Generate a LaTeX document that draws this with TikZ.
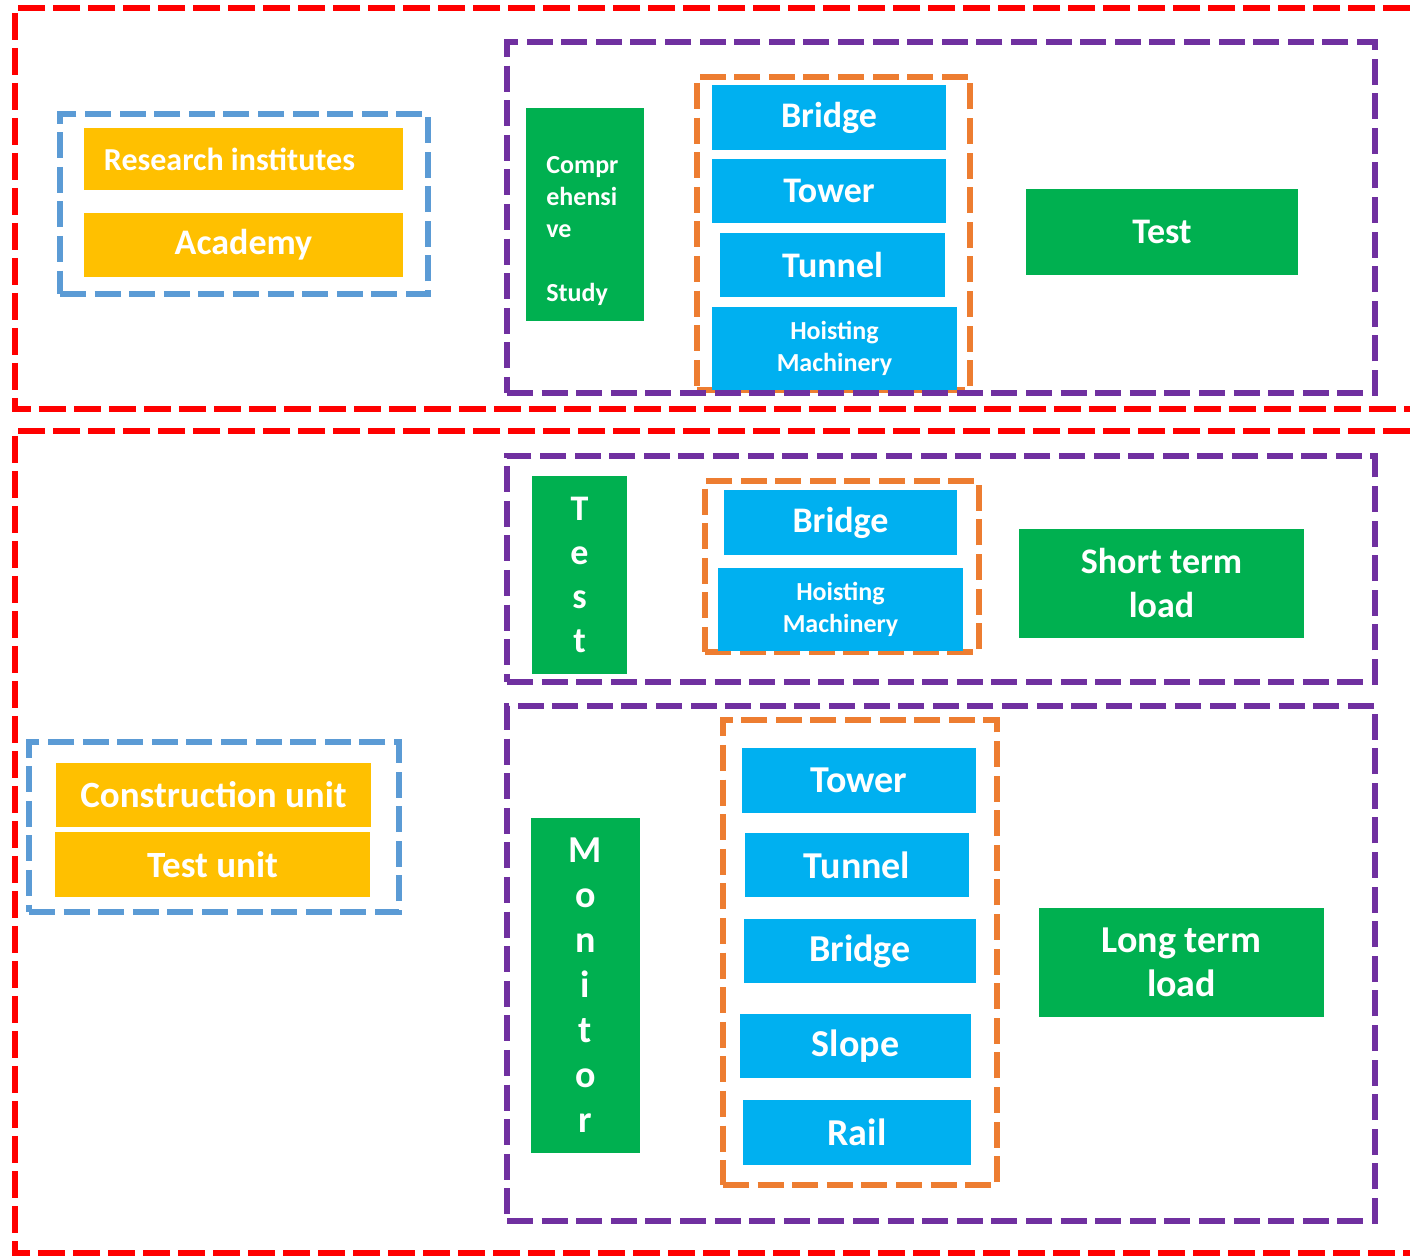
\documentclass[tikz,border=0pt]{standalone}
\usepackage{fontspec}
\setmainfont{Carlito}
\definecolor{vizRed}{HTML}{FF0000}
\definecolor{vizBlue}{HTML}{5B9BD5}
\definecolor{vizOrange}{HTML}{ED7D31}
\definecolor{vizPurple}{HTML}{7030A0}
\definecolor{vizGold}{HTML}{FFC000}
\definecolor{vizCyan}{HTML}{00B0F0}
\definecolor{vizGreen}{HTML}{00B050}
\newcommand{\txtsize}[2]{\fontsize{#1}{#2}\selectfont}
% box from (x1,y1) to (x2,y2), picture units are pixels
\newcommand{\blk}[7]{%
  \pgfmathsetmacro{\bw}{(#5-#3)*0.5}%
  \pgfmathsetmacro{\bh}{(#6-#4)*0.5}%
  \node[#1, minimum width=\bw pt, minimum height=\bh pt] (#2) at ({(#3+#5)/2},{(#4+#6)/2}) {#7};%
}
\tikzset{
  dashframe/.style={draw=#1, line width=2.8pt, dash pattern=on 13pt off 4.3pt, inner sep=0pt},
  redframe/.style={draw=vizRed, line width=2.9pt, dash pattern=on 13.5pt off 4pt},
  unitbox/.style={fill=vizGold, inner sep=0pt, text=white, font=\bfseries\txtsize{18.5}{22}},
  partbox/.style={fill=vizCyan, inner sep=0pt, text=white, font=\bfseries\txtsize{18}{22}, align=center},
  taskbox/.style={fill=vizGreen, inner sep=0pt, text=white, font=\bfseries\txtsize{18}{22}, align=center},
  small/.style={font=\bfseries\txtsize{13}{16}},
  big/.style={font=\bfseries\txtsize{19}{22}},
}

\begin{document}
\begin{tikzpicture}[x=0.5pt, y=-0.5pt]
  \useasboundingbox (0,0) rectangle (1410,1256);
  % outer red frames
  \draw[redframe] (1410,8) -- (15,8) -- (15,409) -- (1410,409);
  \draw[redframe] (1410,431) -- (15,431) -- (15,1253) -- (1410,1253);

  % top part
  \blk{dashframe=vizBlue}{acadgrp}{60}{114}{428}{294}{}
  \blk{unitbox, font=\bfseries\txtsize{16}{19}}{inst}{84}{128}{403}{190}{Research institutes\kern14pt}
  \blk{unitbox, font=\bfseries\txtsize{18}{22}}{acad}{84}{213}{403}{277}{Academy}
  \blk{dashframe=vizOrange}{objtop}{697}{77}{970}{390}{}
  \blk{taskbox}{study}{526}{108}{644}{321}{}
  \node[text=white, small, align=left, anchor=west, inner sep=0pt] (studytxt) at (546,231)
    {Compr\\ehensi\\ve\\\mbox{}\\Study};
  \blk{partbox}{bridgeA}{712}{85}{946}{150}{Bridge}
  \blk{partbox}{towerA}{712}{159}{946}{223}{Tower}
  \blk{partbox}{tunnelA}{720}{233}{945}{297}{Tunnel}
  \blk{partbox, small}{hoistA}{712}{307}{957}{390}{Hoisting\\Machinery}
  \blk{taskbox}{testA}{1026}{189}{1298}{275}{Test}
  \blk{dashframe=vizPurple}{studygrp}{507}{42}{1375}{393}{}

  % short term
  \blk{dashframe=vizOrange}{objmid}{705}{481}{979}{652}{}
  \blk{taskbox}{testB}{532}{476}{627}{674}{T\\e\\s\\t}
  \blk{partbox}{bridgeB}{724}{490}{957}{555}{Bridge}
  \blk{partbox, small}{hoistB}{718}{568}{963}{651}{Hoisting\\Machinery}
  \blk{taskbox}{shortload}{1019}{529}{1304}{638}{Short term\\load}
  \blk{dashframe=vizPurple}{testgrp}{507}{456}{1375}{682}{}

  % long term
  \blk{dashframe=vizOrange}{objlow}{723}{720}{997}{1185}{}
  \blk{taskbox, font=\bfseries\txtsize{19}{22.5}}{monitor}{531}{818}{640}{1153}{M\\o\\n\\i\\t\\o\\r}
  \blk{partbox, big}{towerC}{742}{748}{976}{813}{Tower}
  \blk{partbox, big}{tunnelC}{745}{833}{969}{897}{Tunnel}
  \blk{partbox, big}{bridgeC}{744}{919}{976}{983}{Bridge}
  \blk{partbox, big}{slopeC}{740}{1014}{971}{1078}{Slope}
  \blk{partbox, big}{railC}{743}{1100}{971}{1165}{Rail}
  \blk{taskbox, big}{longload}{1039}{908}{1324}{1017}{Long term\\load}
  \blk{dashframe=vizPurple}{monitorgrp}{507}{706}{1375}{1221}{}

  % units
  \blk{dashframe=vizBlue}{unitgrp}{29}{742}{399}{912}{}
  \blk{unitbox}{constr}{56}{763}{371}{827}{Construction unit}
  \blk{unitbox}{testunit}{55}{832}{370}{897}{Test unit}
\end{tikzpicture}
\end{document}
